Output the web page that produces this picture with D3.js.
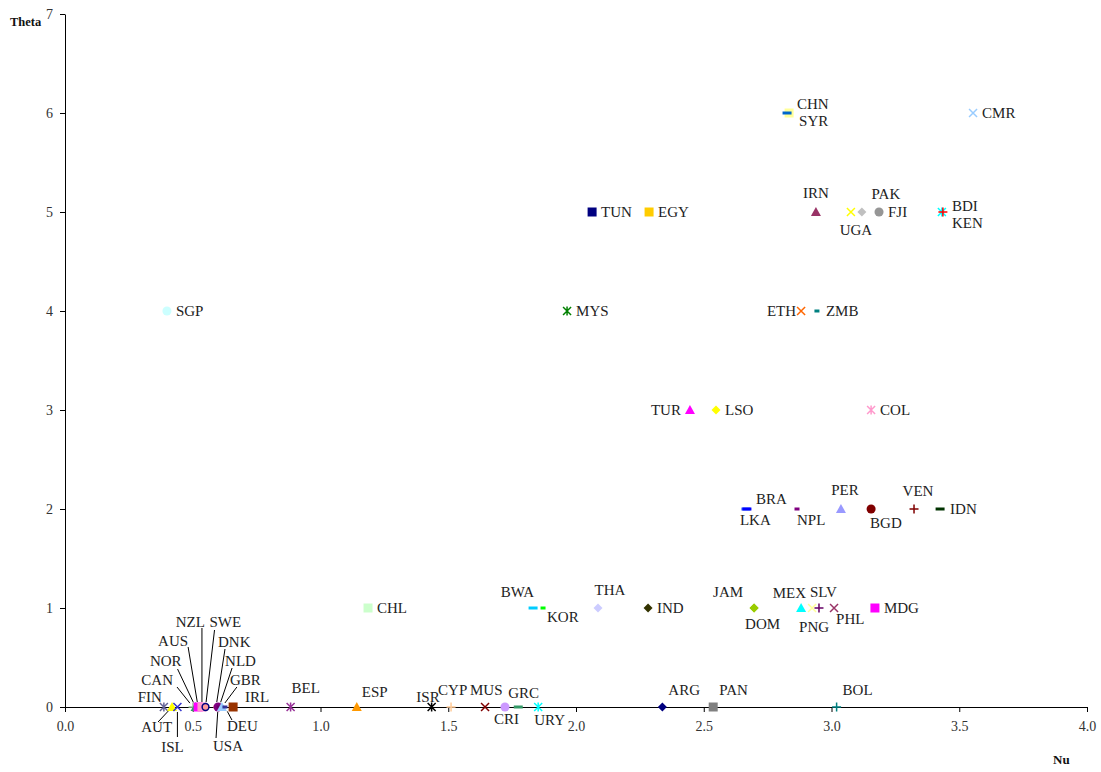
<!DOCTYPE html>
<html>
<head>
<meta charset="utf-8">
<script src="https://cdnjs.cloudflare.com/ajax/libs/d3/7.8.5/d3.min.js"></script>
<style>
  body { margin: 0; background: #fff; }
  svg text { font-family: "Liberation Serif", "DejaVu Serif", serif; }
</style>
</head>
<body>
<svg id="chart" width="1101" height="772"></svg>
<script>
// data
var countries = ["SYR","CHN","CMR","TUN","EGY","IRN","UGA","PAK","FJI","BDI","KEN",
    "SGP","MYS","ETH","ZMB","TUR","LSO","COL",
    "LKA","BRA","NPL","PER","BGD","VEN","IDN",
    "CHL","BWA","KOR","THA","IND","JAM","DOM","MEX","PNG","SLV","PHL","MDG",
    "FIN","AUT","ISL","CAN","NOR","AUS","NZL","SWE","DNK","USA","NLD","GBR","DEU","IRL",
    "BEL","ESP","ISR","CYP","MUS","CRI","GRC","URY","ARG","PAN","BOL"];
var nu = [2.834,2.826,3.554,2.063,2.286,2.939,3.076,3.119,3.186,3.432,3.436,
    0.399,1.965,2.881,2.943,2.446,2.548,3.155,
    2.665,2.669,2.865,3.037,3.155,3.323,3.425,
    1.186,1.832,1.871,2.086,2.282,2.697,2.697,2.881,2.924,2.951,3.010,3.170,
    0.387,0.419,0.440,0.501,0.511,0.521,0.536,0.550,0.591,0.599,0.603,0.614,0.626,0.658,
    0.883,1.142,1.435,1.511,1.644,1.722,1.774,1.852,2.338,2.537,3.020];
var theta = [6,6,6,5,5,5,5,5,5,5,5,
    4,4,4,4,3,3,3,
    2,2,2,2,2,2,2,
    1,1,1,1,1,1,1,1,1,1,1,1,
    0,0,0,0,0,0,0,0,0,0,0,0,0,0,
    0,0,0,0,0,0,0,0,0,0,0];
var xTicks = [0, 0.5, 1, 1.5, 2, 2.5, 3, 3.5, 4];
var yTicks = [0, 1, 2, 3, 4, 5, 6, 7];

// marker style per country: [shape, colour]
var markerStyle = {
    SYR:["square","#FFFF99"], CHN:["dash","#0066CC"], CMR:["x","#99CCFF"],
    TUN:["square","#000080"], EGY:["square","#FFCC00"], IRN:["triangle","#993366"],
    UGA:["x","#FFFF00"], PAK:["diamond","#C0C0C0"], FJI:["circle","#969696"],
    BDI:["star","#00FFFF"], KEN:["plus","#FF0000"],
    SGP:["circle","#CCFFFF"], MYS:["star","#008000"], ETH:["x","#FF6600"], ZMB:["short","#008080"],
    TUR:["triangle","#FF00FF"], LSO:["diamond","#FFFF00"], COL:["star","#FF99CC"],
    LKA:["dash","#3366FF"], BRA:["dash","#0000FF"], NPL:["short","#800080"],
    PER:["triangle","#9999FF"], BGD:["circle","#800000"], VEN:["plus","#800000"], IDN:["dash","#003300"],
    CHL:["square","#CCFFCC"], BWA:["dash","#00CCFF"], KOR:["short","#00FF00"],
    THA:["diamond","#CCCCFF"], IND:["diamond","#333300"], JAM:["diamond","#99CC00"],
    DOM:["diamond","#99CC00"], MEX:["triangle","#00FFFF"], PNG:["x","#FFFF99"],
    SLV:["plus","#660066"], PHL:["x","#993366"], MDG:["square","#FF00FF"],
    FIN:["star","#666699"], AUT:["triangle","#FFFF00"], ISL:["x","#3333CC"],
    CAN:["plus","#99CC99"], NOR:["triangle","#339966"], AUS:["square","#FF00FF"],
    NZL:["square","#FF99CC"], SWE:["ring","#000080"], DNK:["short","#FF8080"],
    USA:["circle","#800080"], NLD:["short","#660066"], GBR:["triangle","#99CCFF"],
    DEU:["short","#333399"], IRL:["square","#993300"],
    BEL:["star","#993399"], ESP:["triangle","#FF9900"], ISR:["star","#000000"],
    CYP:["plus","#FFCC99"], MUS:["x","#800000"], CRI:["circle","#CC99FF"],
    GRC:["dash","#339966"], URY:["star","#00FFFF"], ARG:["diamond","#000080"],
    PAN:["square","#808080"], BOL:["plus","#008080"]
};

// label placement: [dx, dy (to text middle), anchor, leaderDx, leaderDy]
var labelPlace = {
    CHN:[10,-9,"start"], SYR:[10,8,"start"], CMR:[9,0,"start"], TUN:[9,0,"start"],
    EGY:[9,0,"start"], IRN:[0,-19,"middle"], UGA:[5,18,"middle"], PAK:[24,-18,"middle"],
    FJI:[9,0,"start"], BDI:[10,-6,"start"], KEN:[9,11,"start"],
    SGP:[9,0,"start"], MYS:[9,0,"start"], ETH:[-5,0,"end"], ZMB:[9,0,"start"],
    TUR:[-9,0,"end"], LSO:[9,0,"start"], COL:[9,0,"start"],
    BRA:[9,-10,"start"], LKA:[-6,11,"start"], NPL:[0,11,"start"], PER:[4,-19,"middle"],
    BGD:[-1,14,"start"], VEN:[4,-18,"middle"], IDN:[10,0,"start"],
    CHL:[9,0,"start"], BWA:[1,-16,"end"], KOR:[4,9,"start"], THA:[12,-18,"middle"],
    IND:[9,0,"start"], JAM:[-11,-16,"end"], DOM:[-9,16,"start"], MEX:[5,-15,"end"],
    PNG:[-13,19,"start"], SLV:[-9,-16,"start"], PHL:[2,11,"start"], MDG:[9,0,"start"],
    FIN:[-2,-10,"end"], IRL:[12,-10,"start"],
    AUT:[0,20,"end",-14,15], ISL:[-5,40,"middle",0,30],
    CAN:[-20,-27,"end",-16,-20], NOR:[-14,-46,"end",-18,-38], AUS:[-10,-66,"end",-10,-60],
    NZL:[3,-85,"end",0,-79], SWE:[4,-85,"start",9,-77], DNK:[2,-65,"start",9,-58],
    NLD:[6,-46,"start",13,-39], USA:[-5,39,"start",-2,31], GBR:[8,-27,"start",15,-20],
    DEU:[2,19,"start",7,13],
    BEL:[1,-19,"start"], ESP:[5,-15,"start"], ISR:[8,-10,"end"], CYP:[-13,-17,"start"],
    MUS:[-15,-17,"start"], GRC:[-10,-14,"start"], CRI:[-11,12,"start"], URY:[-4,13,"start"],
    ARG:[6,-17,"start"], PAN:[6,-17,"start"], BOL:[6,-17,"start"]
};

var svg = d3.select("#chart");
var x = d3.scaleLinear().domain([0, 4]).range([65, 1087]);
var y = d3.scaleLinear().domain([0, 7]).range([707, 14]);

// axes
var xAxis = svg.append("g").attr("transform", "translate(0," + y(0) + ")")
    .call(d3.axisBottom(x).tickValues(xTicks).tickFormat(d3.format(".1f")).tickSizeInner(5).tickSizeOuter(0).tickPadding(9));
var yAxis = svg.append("g").attr("transform", "translate(" + x(0) + ",0)")
    .call(d3.axisLeft(y).tickValues(yTicks).tickFormat(d3.format("d")).tickSizeInner(5).tickSizeOuter(0).tickPadding(7));
svg.selectAll(".domain").attr("stroke", "#000").attr("stroke-width", 1);
svg.selectAll(".tick line").attr("stroke", "#000");
svg.selectAll(".tick text").attr("font-family", null)
    .style("font-size", "14px").attr("fill", "#333");

svg.append("text").attr("x", 10).attr("y", 26).text("Theta")
    .style("font-size", "12.5px").style("font-weight", "bold").attr("fill", "#111");
svg.append("text").attr("x", 1053).attr("y", 764).text("Nu")
    .style("font-size", "13px").style("font-weight", "bold").attr("fill", "#111");

function markerPath(shape) {
    if (shape == "square") return "M-4.5,-4.5h9v9h-9Z";
    if (shape == "diamond") return "M0,-4.5L4.5,0L0,4.5L-4.5,0Z";
    if (shape == "triangle") return "M0,-5L5,4L-5,4Z";
    if (shape == "circle") return d3.symbol(d3.symbolCircle, 64)();
    if (shape == "ring") return d3.symbol(d3.symbolCircle, 36)();
    if (shape == "x") return "M-4,-4L4,4M-4,4L4,-4";
    if (shape == "star") return "M-4,-4L4,4M-4,4L4,-4M0,-4.5V4.5";
    if (shape == "plus") return "M-4.5,0H4.5M0,-4.5V4.5";
    if (shape == "dash") return "M-4.5,-1.5h9v3h-9Z";
    if (shape == "short") return "M-2.5,-1.5h5v3h-5Z";
}
var lineShapes = {x: 1, star: 1, plus: 1};

var points = countries.map(function (c, i) {
    return { name: c, nu: nu[i], theta: theta[i] };
});

// leaders for the crowded cluster
svg.selectAll(".leader")
    .data(points.filter(function (d) { return labelPlace[d.name].length > 3; }))
    .enter()
    .append("line")
    .attr("class", "leader")
    .attr("x1", function (d) { return x(d.nu) + labelPlace[d.name][3]; })
    .attr("y1", function (d) { return y(d.theta) + labelPlace[d.name][4]; })
    .attr("x2", function (d) {
        var p = labelPlace[d.name], len = Math.sqrt(p[3] * p[3] + p[4] * p[4]);
        return x(d.nu) + p[3] * 5 / len;
    })
    .attr("y2", function (d) {
        var p = labelPlace[d.name], len = Math.sqrt(p[3] * p[3] + p[4] * p[4]);
        return y(d.theta) + p[4] * 5 / len;
    })
    .attr("stroke", "#000")
    .attr("stroke-width", 1);

svg.selectAll(".marker")
    .data(points)
    .enter()
    .append("path")
    .attr("class", "marker")
    .attr("transform", function (d) { return "translate(" + x(d.nu) + "," + y(d.theta) + ")"; })
    .attr("d", function (d) { return markerPath(markerStyle[d.name][0]); })
    .attr("fill", function (d) {
        var s = markerStyle[d.name];
        if (lineShapes[s[0]]) return "none";
        if (s[0] == "ring") return "#FF9999";
        return s[1];
    })
    .attr("stroke", function (d) {
        var s = markerStyle[d.name];
        return (lineShapes[s[0]] || s[0] == "ring") ? s[1] : "none";
    })
    .attr("stroke-width", 1.5);

svg.selectAll(".label")
    .data(points)
    .enter()
    .append("text")
    .attr("class", "label")
    .attr("x", function (d) { return x(d.nu) + labelPlace[d.name][0]; })
    .attr("y", function (d) { return y(d.theta) + labelPlace[d.name][1] + 5; })
    .attr("text-anchor", function (d) { return labelPlace[d.name][2]; })
    .style("font-size", "15px")
    .attr("fill", "#222")
    .text(function (d) { return d.name; });
</script>
</body>
</html>
